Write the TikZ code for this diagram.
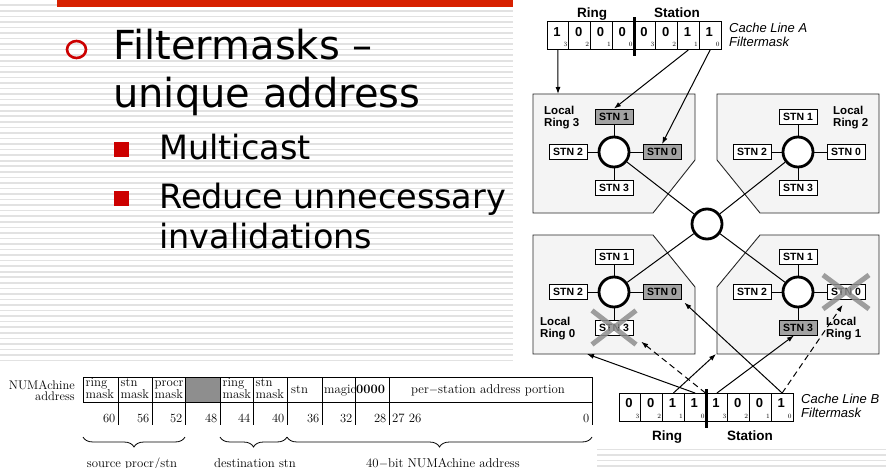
\documentclass[tikz,border=0pt]{standalone}
\usepackage{fontspec}
\setsansfont{Liberation Sans}
\newfontfamily\slidefont{DejaVu Sans}
\usetikzlibrary{calc,arrows.meta,decorations.pathreplacing}

\definecolor{barred}{HTML}{D72000}
\definecolor{bulletred}{HTML}{CC0000}
\definecolor{stripegray}{HTML}{E2E2E2}
\definecolor{panelgray}{HTML}{F4F4F4}
\definecolor{hitgray}{HTML}{A2A2A2}
\definecolor{unusedgray}{HTML}{8E8E8E}

\def\bigfont{\slidefont\fontsize{40}{48}\selectfont}
\def\smallfont{\slidefont\fontsize{33.5}{40}\selectfont}

\tikzset{
	slidetext/.style={anchor=base west, inner sep=0pt},
	panel/.style={draw=black!85, fill=panelgray, line width=0.9pt},
	ringnode/.style={circle, draw, fill=white, line width=2.8pt, minimum size=30pt, inner sep=0pt},
	stnbox/.style={draw, fill=white, line width=0.9pt, minimum width=38pt, minimum height=15pt, inner sep=0pt, font=\sffamily\bfseries\fontsize{10.5}{10.5}\selectfont},
	spoke/.style={line width=0.9pt},
	link/.style={line width=1pt},
	cross/.style={line width=5pt, unusedgray, opacity=0.85},
	maskcell/.style={draw, line width=0.9pt, minimum width=21.75pt, minimum height=28pt, inner sep=0pt},
	digit/.style={inner sep=0pt, font=\sffamily\bfseries\fontsize{13}{13}\selectfont},
	bitno/.style={inner sep=0pt, font=\fontsize{6.5}{6.5}\selectfont},
	masklabel/.style={anchor=base, inner sep=0pt, font=\sffamily\bfseries\fontsize{13.5}{13.5}\selectfont},
	linelabel/.style={anchor=north west, inner sep=0pt, align=left, font=\sffamily\itshape\fontsize{13}{14}\selectfont},
	ringlabel/.style={anchor=north west, inner sep=0pt, align=left, font=\sffamily\bfseries\fontsize{11.5}{12}\selectfont},
	sendarrow/.style={-{Latex[length=7pt,width=5pt]}, line width=1pt},
	droparrow/.style={sendarrow, dash pattern=on 6pt off 4pt},
	field/.style={anchor=base west, inner sep=0pt, font=\fontsize{12.8}{12.8}\selectfont},
	bitpos/.style={anchor=base east, inner sep=0pt, font=\fontsize{12.5}{12.5}\selectfont},
	underbrace/.style={decorate, decoration={brace, amplitude=10pt}, line width=0.8pt},
}

\begin{document}
\begin{tikzpicture}[x=1pt, y=-1pt]
			%%%%% START %%%%%
			\useasboundingbox (0,0) rectangle (886,468);
			\fill[white] (0,0) rectangle (886,468);
			
			% slide background
			\foreach \k in {0,...,83}
				\draw[stripegray, line width=1.6pt] (0,{5.3+5.55*\k}) -- (886,{5.3+5.55*\k});
			\fill[white] (513,0) rectangle (886,445);
			\fill[white] (0,365) rectangle (597,468);
			\fill[barred] (57,0) rectangle (513,7);
			
			% bullets
			\draw[bulletred, line width=2.6pt] (76.5,49.5) ellipse (9.5 and 8.5);
			\node[slidetext, font=\bigfont] (t1) at (113,60) {Filtermasks –};
			\node[slidetext, font=\bigfont] (t2) at (113,108) {unique address};
			\fill[bulletred] (114,142) rectangle (129,157);
			\node[slidetext, font=\smallfont] (t3) at (159,159) {Multicast};
			\fill[bulletred] (114,191) rectangle (129,206);
			\node[slidetext, font=\smallfont] (t4) at (159,208) {Reduce unnecessary};
			\node[slidetext, font=\smallfont] (t5) at (159,248) {invalidations};
			
			% local ring panels
			\draw[panel] (533,94) -- (695,94) -- (695,160) -- (653,213) -- (533,213) -- cycle;
			\draw[panel] (717,94) -- (879,94) -- (879,213) -- (760,213) -- (717,160) -- cycle;
			\draw[panel] (533,235) -- (653,235) -- (695,287) -- (695,354) -- (533,354) -- cycle;
			\draw[panel] (760,235) -- (879,235) -- (879,354) -- (717,354) -- (717,287) -- cycle;
			
			% rings and stations
			\node[ringnode] (hub) at (707,224) {};
			\foreach \r/\x/\y/\fa/\fb/\fc/\fd in {3/614/152/hitgray/hitgray/white/white, 2/798/152/white/white/white/white, 0/614/292/hitgray/white/white/white, 1/798/292/white/white/white/hitgray} {
				\node[ringnode] (r\r) at (\x,\y) {};
				\node[stnbox, fill=\fa] (st\r0) at (\x+48,\y) {STN 0};
				\node[stnbox, fill=\fb] (st\r1) at (\x,\y-35.5) {STN 1};
				\node[stnbox, fill=\fc] (st\r2) at (\x-46,\y) {STN 2};
				\node[stnbox, fill=\fd] (st\r3) at (\x,\y+35.5) {STN 3};
				\foreach \n in {0,...,3}
					\draw[spoke] (r\r) -- (st\r\n);
			}
			\foreach \r in {0,...,3}
				\draw[link] (r\r) -- (hub);
			
			\node[ringlabel] (l3) at (544,106) {Local\\Ring 3};
			\node[ringlabel] (l2) at (833,106) {Local\\Ring 2};
			\node[ringlabel] (l0) at (540,317) {Local\\Ring 0};
			\node[ringlabel] (l1) at (826,317) {Local\\Ring 1};
			
			% stations the multicast should not reach
			\draw[cross] ($(st03)+(-22,-17)$) -- ($(st03)+(22,17)$) ($(st03)+(-22,17)$) -- ($(st03)+(22,-17)$);
			\draw[cross] ($(st10)+(-23,-17)$) -- ($(st10)+(23,17)$) ($(st10)+(-23,17)$) -- ($(st10)+(23,-17)$);
			
			% cache line A filtermask
			\foreach \v [count=\i from 0] in {1,0,0,0,0,0,1,1} {
				\pgfmathtruncatemacro\bitidx{3-mod(\i,4)}
				\node[maskcell] (ma\i) at ({547+21.75*(\i+0.5)},35.5) {};
				\node[digit] (da\i) at ($(ma\i)+(-1,-3.5)$) {\v};
				\node[bitno] (ia\i) at ($(ma\i)+(7.5,8.5)$) {\bitidx};
			}
			\draw[line width=3pt] ($(ma3.north east)+(0,-4)$) -- ($(ma3.south east)+(0,6)$);
			\node[masklabel] (ra) at (592,18) {Ring};
			\node[masklabel] (sa) at (677,18) {Station};
			\node[linelabel] (ca) at (729,23) {Cache Line A\\Filtermask};
			
			\coordinate (r3top) at (558,94);
			\draw[sendarrow] (ma0.south) -- (r3top);
			\draw[sendarrow] (ma6.south) -- (st31.north);
			\draw[sendarrow] (ma7.south) -- (st30.north);
			
			% cache line B filtermask
			\foreach \v [count=\i from 0] in {0,0,1,1,1,0,0,1} {
				\pgfmathtruncatemacro\bitidx{3-mod(\i,4)}
				\node[maskcell] (mb\i) at ({619+21.75*(\i+0.5)},407.5) {};
				\node[digit] (db\i) at ($(mb\i)+(-1,-4)$) {\v};
				\node[bitno] (ib\i) at ($(mb\i)+(7.5,8.5)$) {\bitidx};
			}
			\draw[line width=3pt] ($(mb3.north east)+(0,-4)$) -- ($(mb3.south east)+(0,6)$);
			\node[masklabel] (rb) at (667,440) {Ring};
			\node[masklabel] (sb) at (750,440) {Station};
			\node[linelabel] (cb) at (801,394) {Cache Line B\\Filtermask};
			
			\coordinate (r0foot) at (587,354);
			\coordinate (r1foot) at (716,354);
			\draw[sendarrow] (mb2.north) -- (r1foot);
			\draw[sendarrow] (mb3.north) -- (r0foot);
			\draw[sendarrow] (mb4.north) -- ($(st13.south)+(-4,0)$);
			\draw[sendarrow, shorten >=4pt] (mb7.north) -- (st00.south east);
			\draw[droparrow, shorten >=10pt] (mb4.north west) -- (st03.south east);
			\draw[droparrow, shorten >=6pt] (mb7.north) -- (st10.south);
			
			% address format
			\node[bitpos] (na1) at (75,389) {NUMAchine};
			\node[bitpos] (na2) at (75,400) {address};
			\fill[unusedgray] (185,377) rectangle (220,402);
			\draw[line width=0.9pt] (83,377) -- (592,377) (83,402) -- (592,402) (83,377) -- (83,402);
			\foreach \xb in {118,152,185,220,253,287,322,355,389,592}
				\draw[line width=0.9pt] (\xb,377) -- (\xb,425);
			\foreach \xa/\ta/\tb [count=\i] in {83/ring/mask, 118/stn/mask, 152/procr/mask, 220/ring/mask, 253/stn/mask} {
				\node[field] (fa\i) at (\xa+2.5,386.5) {\ta};
				\node[field] (fb\i) at (\xa+2.5,398.5) {\tb};
			}
			\node[field] (fc1) at (291,393) {stn};
			\node[field] (fc2) at (324,393) {magic};
			\node[field, font=\bfseries\fontsize{12.8}{12.8}\selectfont] (fc3) at (356,393) {0000};
			\node[field, anchor=base] (fc4) at (488,393) {per$-$station address portion};
			\foreach \xb/\num [count=\i] in {118/60,152/56,185/52,220/48,253/44,287/40,322/36,355/32,389/28,592/0}
				\node[bitpos] (bp\i) at (\xb-2.5,422) {\num};
			\node[field] (bp11) at (392,422) {27 26};
			
			\draw[underbrace] (185,437) -- (83,437);
			\draw[underbrace] (287,437) -- (220,437);
			\draw[underbrace] (592,437) -- (287,437);
			\node[field, anchor=base] (br1) at (132,467) {source procr/stn};
			\node[field, anchor=base] (br2) at (255,467) {destination stn};
			\node[field, anchor=base] (br3) at (443,467) {40$-$bit NUMAchine address};
			%%%%% END %%%%%
\end{tikzpicture}
\end{document}
